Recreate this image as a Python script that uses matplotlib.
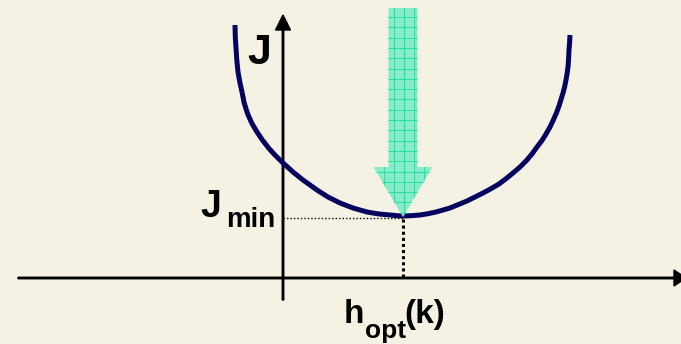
import numpy as np
import matplotlib.pyplot as plt
from matplotlib.patches import Polygon

# curve J(h) (origin at the axes crossing, 1 unit = 1 px)
curve_x = [-48, -47.7, -47, -46.2, -45, -43.2, -41, -38.8, -35.5, -31.3, -26, -20.6, -14.4, -8.1,
           -1, 4.5, 10, 15, 20, 27, 34, 45, 57, 70, 84, 96, 107, 114, 120,
           128, 137, 145, 153, 160, 167, 175, 184, 192, 200, 208, 216, 223, 230, 237, 243,
           249, 254, 259, 263, 267, 270.3, 273.4, 276, 278, 280, 281.7, 283, 284.1, 285, 285.6,
           286, 286.6, 287]
curve_y = [253, 241, 230, 218, 206, 196, 186, 175, 164.5, 155, 146, 138, 130, 123,
           116, 111, 106, 102, 98, 93, 88, 81, 75, 70, 66, 64, 63, 62.3, 62,
           62.3, 63, 64.3, 66, 68, 70, 73.3, 77, 81, 85, 89.3, 94, 99.3, 105, 111, 117,
           124, 131, 137.5, 144, 151, 158, 165, 172, 178.5, 185, 191.5, 198, 204.5, 211, 219.5,
           228, 235.5, 243]
h_opt = 120
j_min = 61

bg = '#F5F1E3'
navy = '#03035F'
mint = '#86ECCB'
mint_line = '#2BE0A3'

fig = plt.figure(figsize=(6.81, 3.44), dpi=100)
fig.patch.set_facecolor(bg)
ax = fig.add_axes([0, 0, 1, 1])
ax.set_facecolor(bg)
ax.set_xlim(-283, 398)
ax.set_ylim(-66, 278)
ax.axis('off')

# axes with arrow heads
ax.arrow(-265, 0, 668, 0, width=1.5, head_width=16, head_length=12,
         length_includes_head=True, color='black', zorder=2)
ax.arrow(0, -22, 0, 285, width=1.5, head_width=15, head_length=15,
         length_includes_head=True, color='black', zorder=2)

# the cost curve
ax.plot(curve_x, curve_y, color=navy, lw=3.6, solid_capstyle='butt',
        solid_joinstyle='round', zorder=3)

# big gridded arrow pointing at the minimum
top = 270
shaft, head, head_len = 14.5, 29.5, 50
arrow = Polygon([(h_opt - shaft, top), (h_opt + shaft, top), (h_opt + shaft, j_min + head_len),
                 (h_opt + head, j_min + head_len), (h_opt, j_min),
                 (h_opt - head, j_min + head_len), (h_opt - shaft, j_min + head_len)],
                closed=True, facecolor=mint, edgecolor='none', zorder=4)
ax.add_patch(arrow)
for gx in np.arange(h_opt - 19, h_opt + 30, 10):
    ln, = ax.plot([gx, gx], [j_min, top], color=mint_line, lw=0.8, zorder=4.5)
    ln.set_clip_path(arrow)
for gy in np.arange(top - 9, j_min, -10.3):
    ln, = ax.plot([h_opt - head, h_opt + head], [gy, gy], color=mint_line, lw=0.8, zorder=4.5)
    ln.set_clip_path(arrow)

# guide lines to the minimum
ax.plot([0, h_opt], [j_min - 1, j_min - 1], color='black', lw=1.0,
        linestyle=(0, (1, 1.5)), zorder=5)
ax.plot([h_opt, h_opt], [j_min - 2, 0], color='black', lw=2.2,
        linestyle=(0, (1, 1)), zorder=5)

# labels
font = dict(family='Liberation Sans', weight='bold', color='black', ha='left', va='baseline')
ax.text(-36, 214, 'J', fontsize=31, **font)
ax.text(-83, 61, 'J', fontsize=27, **font)
ax.text(-57, 51, 'min', fontsize=20, **font)
ax.text(61, -45, 'h', fontsize=24, **font)
ax.text(82, -60, 'opt', fontsize=19, **font)
ax.text(121, -45, '(k)', fontsize=24, **font)

fig.savefig('out.png', dpi=100, facecolor=bg)
